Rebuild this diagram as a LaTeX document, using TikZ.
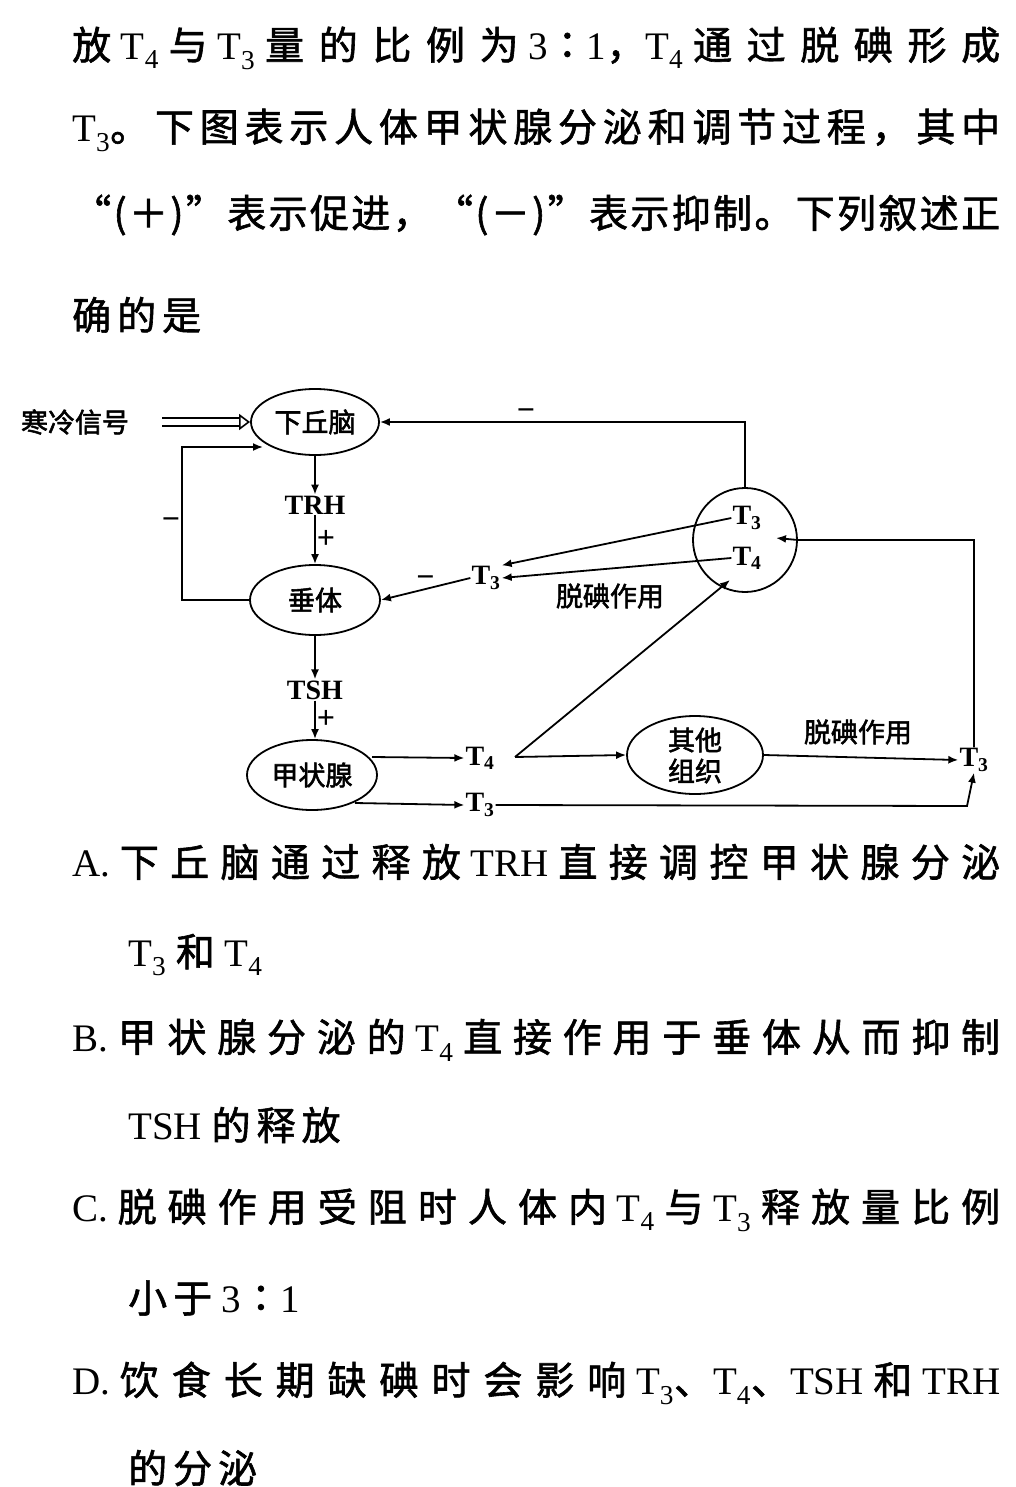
\documentclass[tikz,border=0pt]{standalone}
\usepackage{fontspec}
\setmainfont{Liberation Serif}
\newfontfamily\cjk{Noto Sans CJK SC}[FakeBold=1.5]
\newfontfamily\cjkd{Noto Sans CJK SC}[FakeBold=2]
\usetikzlibrary{arrows.meta,shapes.geometric}
\XeTeXinterchartokenstate=1
\newXeTeXintercharclass\CJKc
\count255="4E00
\loop\ifnum\count255<"A000 \XeTeXcharclass\count255=\CJKc \advance\count255 by 1 \repeat
\count255="3000
\loop\ifnum\count255<"3040 \XeTeXcharclass\count255=\CJKc \advance\count255 by 1 \repeat
\count255="FF00
\loop\ifnum\count255<"FF60 \XeTeXcharclass\count255=\CJKc \advance\count255 by 1 \repeat
\XeTeXcharclass"201C=\CJKc \XeTeXcharclass"201D=\CJKc \XeTeXcharclass"2236=\CJKc
\XeTeXinterchartoks\CJKc\CJKc={\hskip0pt plus 1fil\relax}
\XeTeXinterchartoks\CJKc 0={\hskip0pt plus 1fil\relax}
\XeTeXinterchartoks 0\CJKc={\hskip0pt plus 1fil\relax}
\newcommand{\Ts}[1]{T\textsubscript{#1}}
\newcommand{\rat}{3{\cjkd ∶}1}
\newcommand{\fl}[1]{\hbox to 928pt{#1}}
\begin{document}
\begin{tikzpicture}[x=1pt,y=-1pt,
  body/.style={anchor=west,inner sep=0pt,font=\fontsize{39}{42}\selectfont},
  lab/.style={inner sep=1pt,font=\bfseries\fontsize{28}{30}\selectfont},
  sg/.style={inner sep=1pt,font=\bfseries\fontsize{32}{34}\selectfont},
  cl/.style={inner sep=1pt,font=\cjkd\fontsize{27}{29}\selectfont},
  org/.style={draw,line width=1.8pt,ellipse,inner sep=0pt},
  ar/.style={line width=1.8pt,-{Latex[length=10pt,width=8pt]}}]
\useasboundingbox[fill=white] (0,0) rectangle (1015,1487);
% question text
\node[body] (l1) at (72,48) {\fl{{\cjk 放} \Ts{4} {\cjk 与} \Ts{3} {\cjk 量的比例为} \rat{\cjk ，}\Ts{4} {\cjk 通过脱碘形成}}};
\node[body] (l2) at (72,130) {\fl{\Ts{3}{\cjk 。下图表示人体甲状腺分泌和调节过程，其中}}};
\node[body] (l3) at (72,215) {\fl{{\cjk “(＋)”表示促进，“(－)”表示抑制。下列叙述正}}};
\node[body] (l4) at (72,315) {{\cjk 确\hskip6pt 的\hskip6pt 是}};
% diagram
\node[cl] (cold) at (75,422) {寒冷信号};
\node[org,minimum width=128pt,minimum height=66pt] (hyp) at (315,422) {\cjkd\fontsize{27}{29}\selectfont 下丘脑};
\node[org,minimum width=130pt,minimum height=70pt] (pit) at (315,600) {\cjkd\fontsize{27}{29}\selectfont 垂体};
\node[org,minimum width=130pt,minimum height=70pt] (thy) at (312,775) {\cjkd\fontsize{27}{29}\selectfont 甲状腺};
\node[org,minimum width=136pt,minimum height=78pt] (oth) at (695,755) {};
\node[cl] (oth1) at (695,740) {其他};
\node[cl] (oth2) at (695,771) {组织};
\node[draw,circle,line width=1.8pt,minimum size=104pt,inner sep=0pt] (cir) at (745,540) {};
\node[lab] (cT3) at (747,518) {\Ts{3}};
\node[lab] (cT4) at (747,558) {\Ts{4}};
\node[lab] (trh) at (315,505) {TRH};
\node[lab] (tsh) at (315,690) {TSH};
\node[lab] (mT3) at (486,578) {\Ts{3}};
\node[lab] (gT4) at (480,758) {\Ts{4}};
\node[lab] (gT3) at (480,805) {\Ts{3}};
\node[lab] (rT3) at (974,760) {\Ts{3}};
\node[cl] (d1) at (610,596) {脱碘作用};
\node[cl] (d2) at (858,732) {脱碘作用};
\coordinate (c0) at (162,422);
\coordinate (fb) at (182,447);
\coordinate (g1) at (372,757);
\coordinate (g2) at (355,803);
\coordinate (split) at (515,757);
\coordinate (tip) at (730,580);
% arrows
\draw[line width=1.6pt,double distance=6pt,-{Triangle[open,length=11pt,width=16pt]}] (c0) -- (hyp.west);
\draw[ar] (hyp.south) -- (trh.north);
\draw[ar] (trh.south) -- node[right,sg]{+} (pit.north);
\draw[ar] (pit.south) -- (tsh.north);
\draw[ar] (tsh.south) -- node[right,sg]{+} (tsh.south |- thy.north);
\draw[ar] (pit.west) -| (fb) node[pos=0.75,left,sg]{−} -- (263,447);
\draw[ar] (cir.north) |- node[pos=0.8,above,sg]{−} (hyp.east);
\draw[ar] (mT3.west) -- node[above,sg]{−} (pit.east);
\draw[ar] (cT3.west) -- (mT3.north east);
\draw[ar] (cT4.west) -- (mT3.east);
\draw[ar] (g1) -- (gT4.west);
\draw[ar] (g2) -- (gT3.west);
\draw[ar] (split) -- (oth.west);
\draw[ar] (split) -- (tip);
\draw[ar] (oth.east) -- (rT3.west);
\draw[ar] (rT3.north) |- (cir.east) -- (776,538);
\draw[ar] (gT3.east) -- (967,806) -- (rT3.south);
% options
\node[body] (a1) at (72,862) {\fl{A. {\cjk 下丘脑通过释放} TRH {\cjk 直接调控甲状腺分泌}}};
\node[body] (a2) at (128,955) {\Ts{3} {\cjk 和} \Ts{4}};
\node[body] (b1) at (72,1040) {\fl{B. {\cjk 甲状腺分泌的} \Ts{4} {\cjk 直接作用于垂体从而抑制}}};
\node[body] (b2) at (128,1125) {TSH {\cjk 的\hskip6pt 释\hskip6pt 放}};
\node[body] (c1) at (72,1210) {\fl{C. {\cjk 脱碘作用受阻时人体内} \Ts{4} {\cjk 与} \Ts{3} {\cjk 释放量比例}}};
\node[body] (c2) at (128,1298) {{\cjk 小\hskip6pt 于} \rat};
\node[body] (e1) at (72,1383) {\fl{D. {\cjk 饮食长期缺碘时会影响} \Ts{3}{\cjk 、}\Ts{4}{\cjk 、}TSH {\cjk 和} TRH}};
\node[body] (e2) at (128,1468) {{\cjk 的\hskip6pt 分\hskip6pt 泌}};
\end{tikzpicture}
\end{document}
